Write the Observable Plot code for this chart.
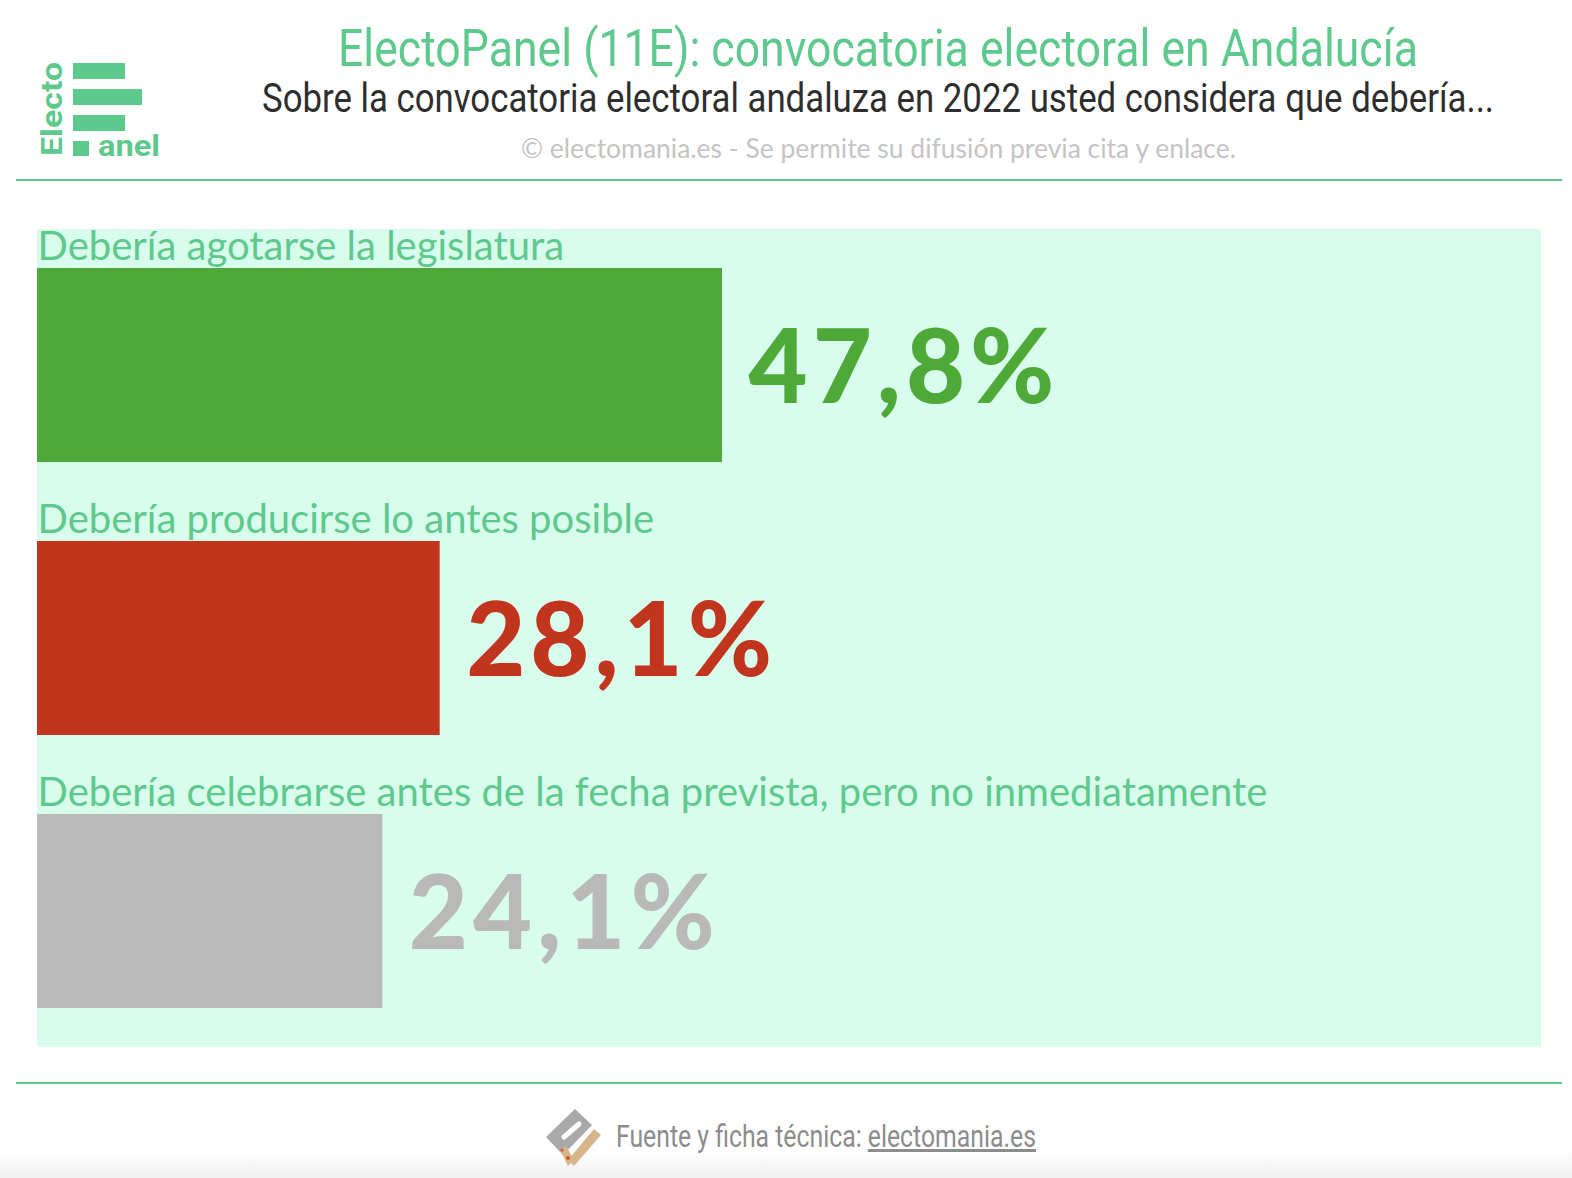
<!DOCTYPE html>
<html><head><meta charset="utf-8">
<script src="https://cdn.jsdelivr.net/npm/d3@7"></script>
<script src="https://cdn.jsdelivr.net/npm/@observablehq/plot@0.6"></script>
<style>
body{margin:0;width:1572px;height:1178px;position:relative;background:#fff;overflow:hidden;font-family:Roboto, sans-serif}
.fit{position:absolute;white-space:nowrap;transform-origin:0 0;line-height:1}
.rule{position:absolute;left:16px;width:1546px;height:2px;background:#5ec98d}
#chart{position:absolute;left:37px;top:229px}
a{color:inherit}
</style></head><body>
<svg id="logo" width="200" height="180" style="position:absolute;left:0;top:0">
  <rect x="73" y="63" width="52" height="16" fill="#5ec98d"/>
  <rect x="73" y="89" width="69" height="16" fill="#5ec98d"/>
  <rect x="73" y="115" width="52" height="16" fill="#5ec98d"/>
  <rect x="73" y="141" width="16" height="15" fill="#5ec98d"/>
  <text x="98" y="156" font-family="Roboto" font-weight="700" font-size="30" fill="#5ec98d" textLength="62" lengthAdjust="spacingAndGlyphs">anel</text>
  <text transform="translate(62,156) rotate(-90)" font-family="Roboto" font-weight="700" font-size="30" fill="#5ec98d" textLength="94" lengthAdjust="spacingAndGlyphs">Electo</text>
</svg>
<div id="title" class="fit" style="color:#5ec98d;font-size:52px;top:23px"></div>
<div id="subtitle" class="fit" style="color:#2e2e2e;font-size:41px;top:78px"></div>
<div id="caption" class="fit" style="color:#c4c4c4;font-size:27px;top:134px;font-family:Lato"></div>
<div class="rule" style="top:179px"></div>
<div id="chart"></div>
<div class="rule" style="top:1082px"></div>
<div style="position:absolute;left:0;top:1148px;width:1572px;height:30px;background:linear-gradient(#ffffff,#f1f1f1)"></div>
<svg width="70" height="75" style="position:absolute;left:535px;top:1098px" viewBox="535 1098 70 75">
  <polygon points="546,1137 575,1109 592,1125 563,1155" fill="#a9a9a9"/>
  <line x1="564" y1="1137" x2="579" y2="1124" stroke="#fff" stroke-width="5" stroke-linecap="round"/>
  <polygon points="594,1129 601,1135 574,1166 568,1160" fill="#d7b58a"/>
  <polygon points="560,1150 566,1146 574,1160 568,1166" fill="#d7b58a"/>
  <circle cx="568" cy="1158" r="2" fill="#d0552e"/>
  <circle cx="562" cy="1150" r="1.5" fill="#d0552e"/>
</svg>
<div id="source" class="fit" style="color:#8c8c8c;font-size:32px;top:1120px"></div>
<script>
// ---- data ----
const categories = [
  "Debería agotarse la legislatura",
  "Debería producirse lo antes posible",
  "Debería celebrarse antes de la fecha prevista, pero no inmediatamente"
];
const values = [47.8, 28.1, 24.1];
const colors = ["#4fa939", "#c1351f", "#b9b9b9"];
const titleText = "ElectoPanel (11E): convocatoria electoral en Andalucía";
const subtitleText = "Sobre la convocatoria electoral andaluza en 2022 usted considera que debería...";
const captionText = "© electomania.es - Se permite su difusión previa cita y enlace.";
const sourceLabel = "Fuente y ficha técnica: ";
const sourceLink = "electomania.es";

const data = categories.map((c, i) => ({category: c, value: values[i]}));
const fmt = v => v.toFixed(1).replace(".", ",") + "%";

const chart = Plot.plot({
  width: 1504,
  height: 818,
  margin: 0,
  style: {background: "#d9fdec", fontFamily: "Lato, sans-serif", overflow: "visible"},
  x: {domain: [0, 100], range: [0, 1433], axis: null},
  y: {domain: categories, range: [38, 781], paddingInner: 0.288, paddingOuter: 0, axis: null},
  color: {domain: categories, range: colors},
  marks: [
    Plot.barX(data, {x: "value", y: "category", fill: "category"}),
    Plot.text(data, {x: 0, y: "category", text: "category", textAnchor: "start", lineAnchor: "bottom",
      dy: -106, fill: "#5ec98d", fontSize: 40}),
    Plot.text(data, {x: "value", y: "category", text: d => fmt(d.value), textAnchor: "start",
      dx: 26, dy: 5, fill: "category", fontSize: 102, fontWeight: 900})
  ]
});
// widen the big value labels a little (letter spacing)
d3.select(chart).selectAll("g[aria-label='text']").filter((d, i) => i === 1)
  .attr("letter-spacing", "5px");
document.getElementById("chart").appendChild(chart);

document.getElementById("title").textContent = titleText;
document.getElementById("subtitle").textContent = subtitleText;
document.getElementById("caption").textContent = captionText;
const src = document.getElementById("source");
src.textContent = sourceLabel;
const a = document.createElement("a");
a.textContent = sourceLink; a.href = "#";
src.appendChild(a);

function fit(id, left, width) {
  const el = document.getElementById(id);
  const w = el.getBoundingClientRect().width;
  el.style.transform = `scaleX(${width / w})`;
  el.style.left = left + "px";
}
fit("title", 338, 1080);
fit("subtitle", 262, 1232);
fit("caption", 521, 715);
fit("source", 616, 420);
</script>
</body></html>
